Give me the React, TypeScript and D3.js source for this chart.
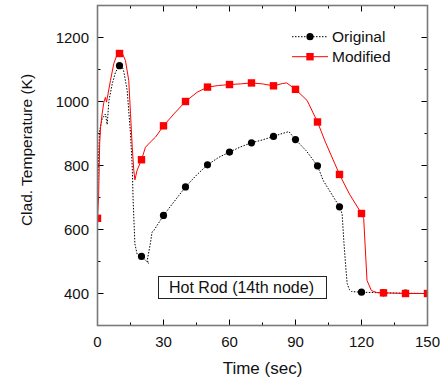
import React, { useEffect, useRef } from 'react';
import * as d3 from 'd3';

const W = 442;
const H = 379;

// dense traces: [time (s), temperature (K)]
const originalTrace: [number, number][] = [
  [0, 690], [0.5, 830], [1, 910], [2.1, 946], [3.6, 961], [4.4, 928], [5.2, 1003],
  [6.7, 1055], [8.2, 1092], [10, 1112], [11, 1115], [12, 1092], [13.5, 1034],
  [15, 899], [15.8, 795], [16.2, 690], [16.5, 639], [17, 555], [18, 523], [20, 516],
  [23.3, 494], [22.6, 503], [24, 555], [24.8, 592], [25.6, 597], [30, 644],
  [34.7, 686], [40, 733], [45, 770], [50, 802], [55, 825], [60, 842], [65, 858],
  [70, 871], [75, 880], [80, 891], [84, 900], [87, 906], [90, 881], [95, 845],
  [100, 799], [102.6, 753], [110, 671], [111.2, 649], [112, 560], [113, 470],
  [113.5, 431], [114.5, 412], [115.5, 406], [120, 404], [130, 402], [140, 401], [150, 400]
];

const modifiedTrace: [number, number][] = [
  [0, 635], [0.5, 700], [1, 870], [1.4, 919], [2.1, 961], [2.9, 998], [3.6, 1013],
  [4.1, 998], [4.8, 1024], [5.9, 1066], [7.4, 1118], [9, 1149], [10, 1150],
  [11.2, 1152], [12.7, 1128], [14.2, 1066], [15, 962], [15.8, 857], [16.5, 784],
  [17, 755], [18, 785], [20, 818], [21.8, 857], [24, 873], [26.4, 889], [30, 924],
  [34.7, 961], [40, 1000], [45.3, 1029], [50, 1045], [55, 1050], [60, 1053],
  [65, 1055], [70, 1058], [75, 1055], [80, 1049], [84, 1056], [86, 1058],
  [90, 1038], [95.3, 1003], [100, 936], [103.6, 873], [110, 772], [114.5, 711],
  [120, 650], [121, 634], [122.5, 441], [124.5, 409], [127, 403], [130, 402],
  [140, 400], [150, 400]
];

// symbols every 10 s
const originalMarkT = [10, 20, 30, 40, 50, 60, 70, 80, 90, 100, 110, 120, 130, 140, 150];
const originalMarkV = [1112, 516, 644, 733, 802, 842, 871, 891, 881, 799, 671, 404, 402, 401, 400];
const modifiedMarkT = [0, 10, 20, 30, 40, 50, 60, 70, 80, 90, 100, 110, 120, 130, 140, 150];
const modifiedMarkV = [635, 1150, 818, 924, 1000, 1045, 1053, 1058, 1049, 1038, 936, 772, 650, 402, 400, 400];

const xTicks = [0, 30, 60, 90, 120, 150];
const xMinor = [15, 45, 75, 105, 135];
const yTicks = [400, 600, 800, 1000, 1200];
const yMinor = [500, 700, 900, 1100];

const font = '"Liberation Sans", Arial, sans-serif';

export default function App() {
  const ref = useRef<SVGSVGElement>(null);

  useEffect(() => {
    const svg = d3.select(ref.current);
    svg.selectAll('*').remove();

    const left = 97.5, right = 427.5, top = 5.5, bottom = 325.5;
    const x = d3.scaleLinear().domain([0, 150]).range([left, right]);
    const y = d3.scaleLinear().domain([300, 1300]).range([bottom, top]);

    svg.append('defs').append('clipPath').attr('id', 'plot-clip')
      .append('rect')
      .attr('x', left).attr('y', top)
      .attr('width', right - left).attr('height', bottom - top);

    // 刻度 (inside, all four sides)
    const ticks = svg.append('g').attr('stroke', '#000').attr('stroke-width', 1);
    xTicks.forEach(t => {
      ticks.append('line').attr('x1', x(t)).attr('x2', x(t)).attr('y1', bottom).attr('y2', bottom - 6);
      ticks.append('line').attr('x1', x(t)).attr('x2', x(t)).attr('y1', top).attr('y2', top + 6);
    });
    xMinor.forEach(t => {
      ticks.append('line').attr('x1', x(t)).attr('x2', x(t)).attr('y1', bottom).attr('y2', bottom - 3);
      ticks.append('line').attr('x1', x(t)).attr('x2', x(t)).attr('y1', top).attr('y2', top + 3);
    });
    yTicks.forEach(v => {
      ticks.append('line').attr('x1', left).attr('x2', left + 6).attr('y1', y(v)).attr('y2', y(v));
      ticks.append('line').attr('x1', right).attr('x2', right - 6).attr('y1', y(v)).attr('y2', y(v));
    });
    yMinor.forEach(v => {
      ticks.append('line').attr('x1', left).attr('x2', left + 3).attr('y1', y(v)).attr('y2', y(v));
      ticks.append('line').attr('x1', right).attr('x2', right - 3).attr('y1', y(v)).attr('y2', y(v));
    });

    // 曲线
    const line = d3.line<[number, number]>().x(d => x(d[0])).y(d => y(d[1]));
    const plot = svg.append('g').attr('clip-path', 'url(#plot-clip)');

    plot.append('path')
      .attr('d', line(originalTrace))
      .attr('fill', 'none')
      .attr('stroke', '#000')
      .attr('stroke-width', 1)
      .attr('stroke-dasharray', '1.5,1.5');

    plot.selectAll('circle.orig').data(originalMarkT).enter()
      .append('circle')
      .attr('cx', d => x(d))
      .attr('cy', (d, i) => y(originalMarkV[i]))
      .attr('r', 3.6)
      .attr('fill', '#000');

    plot.append('path')
      .attr('d', line(modifiedTrace))
      .attr('fill', 'none')
      .attr('stroke', '#ff0000')
      .attr('stroke-width', 1);

    plot.selectAll('rect.mod').data(modifiedMarkT).enter()
      .append('rect')
      .attr('x', d => x(d) - 3.7)
      .attr('y', (d, i) => y(modifiedMarkV[i]) - 3.7)
      .attr('width', 7.4)
      .attr('height', 7.4)
      .attr('fill', '#ff0000');

    // 边框
    svg.append('rect')
      .attr('x', left).attr('y', top)
      .attr('width', right - left).attr('height', bottom - top)
      .attr('fill', 'none')
      .attr('stroke', '#7a7a7a')
      .attr('stroke-width', 1.6);

    // 坐标文字
    const txt = svg.append('g').attr('font-family', font).attr('font-size', 15).attr('fill', '#111');
    xTicks.forEach(t => {
      txt.append('text').attr('x', x(t)).attr('y', 346.5).attr('text-anchor', 'middle').text(t);
    });
    yTicks.forEach(v => {
      txt.append('text').attr('x', 89).attr('y', y(v) + 5.3).attr('text-anchor', 'end').text(v);
    });
    txt.append('text').attr('x', 262.5).attr('y', 373.5).attr('font-size', 17)
      .attr('text-anchor', 'middle').text('Time (sec)');
    txt.append('text')
      .attr('transform', 'translate(32 150) rotate(-90)')
      .attr('font-size', 15.5)
      .attr('text-anchor', 'middle')
      .text('Clad. Temperature (K)');

    // 图例
    const lg = svg.append('g');
    lg.append('line').attr('x1', 292).attr('x2', 328).attr('y1', 36.7).attr('y2', 36.7)
      .attr('stroke', '#000').attr('stroke-dasharray', '1.5,1.5');
    lg.append('circle').attr('cx', 310).attr('cy', 36.7).attr('r', 3.6).attr('fill', '#000');
    lg.append('line').attr('x1', 292).attr('x2', 328).attr('y1', 56.7).attr('y2', 56.7)
      .attr('stroke', '#ff0000');
    lg.append('rect').attr('x', 306.3).attr('y', 53).attr('width', 7.4).attr('height', 7.4).attr('fill', '#ff0000');
    lg.append('text').attr('x', 332).attr('y', 42).attr('font-family', font).attr('font-size', 15.5).attr('fill', '#111').text('Original');
    lg.append('text').attr('x', 332).attr('y', 62).attr('font-family', font).attr('font-size', 15.5).attr('fill', '#111').text('Modified');

    // 注释框
    svg.append('rect')
      .attr('x', 158.5).attr('y', 276.5).attr('width', 168).attr('height', 22)
      .attr('fill', '#fff').attr('stroke', '#222').attr('stroke-width', 1);
    svg.append('text')
      .attr('x', 241.5).attr('y', 293)
      .attr('text-anchor', 'middle')
      .attr('font-family', font).attr('font-size', 16).attr('fill', '#111')
      .text('Hot Rod (14th node)');
  }, []);

  return (
    <svg
      ref={ref}
      width={W}
      height={H}
      style={{ position: 'absolute', left: 0, top: 0, background: '#fff' }}
    />
  );
}
